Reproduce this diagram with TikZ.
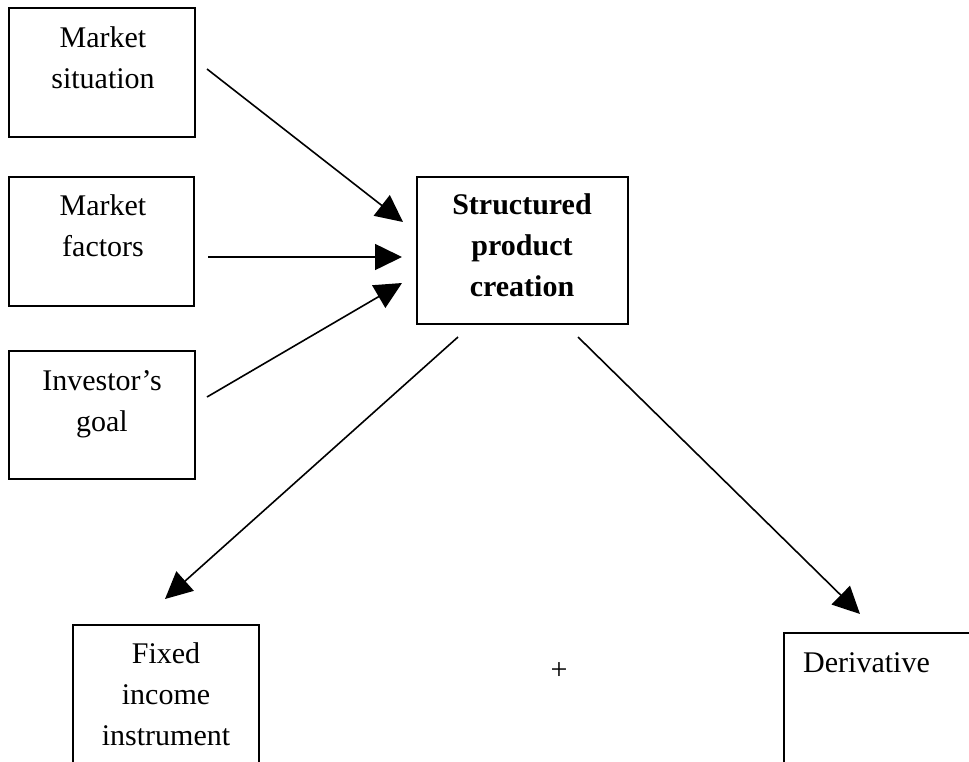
\documentclass[tikz,border=0pt]{standalone}
\usepackage{fontspec}
\setmainfont{Liberation Serif}
\usetikzlibrary{arrows.meta}

\tikzset{
  box/.style={draw=black, line width=2.2pt, rectangle, inner sep=0pt},
  boxtext/.style={inner sep=0pt, align=center, anchor=north,
    font=\fontsize{30}{41}\selectfont},
  flow/.style={line width=1.6pt, -{Triangle[length=27pt, width=26pt]}},
}

\begin{document}
\begin{tikzpicture}[x=1pt, y=-1pt]
  \useasboundingbox (0,0) rectangle (969,761);
  \clip (0,0) rectangle (969,761);
  \fill[white] (0,0) rectangle (969,761);

  % input boxes on the left
  \node[box, minimum width=186pt, minimum height=129pt] (situation) at (102,72.5) {};
  \node[box, minimum width=185pt, minimum height=129pt] (factors) at (101.5,241.5) {};
  \node[box, minimum width=186pt, minimum height=128pt] (goal) at (102,415) {};

  % central box
  \node[box, minimum width=211pt, minimum height=147pt] (creation) at (522.5,250.5) {};

  % output boxes, running past the lower edge
  \node[box, minimum width=186pt, minimum height=160pt] (fixed) at (166,705) {};
  \node[box, minimum width=187pt, minimum height=160pt] (deriv) at (877.5,713) {};

  % box texts
  \node[boxtext] (tsituation) at (103,18.3) {\strut Market\\situation};
  \node[boxtext] (tfactors) at (103,186.3) {\strut Market\\factors};
  \node[boxtext] (tgoal) at (102,361.3) {\strut Investor’s\\goal};
  \node[boxtext, font=\fontsize{30}{41}\selectfont\bfseries] (tcreation) at (522,185.3)
    {\strut Structured\\product\\creation};
  \node[boxtext] (tfixed) at (166,634.3) {\strut Fixed\\income\\instrument};
  \node[boxtext, anchor=north west, align=left] (tderiv) at (803,643.3) {\strut Derivative};
  \node[inner sep=0pt, anchor=base, font=\fontsize{30}{41}\selectfont] (plus) at (559,679) {+};

  % connector end points
  \coordinate (s1) at (207,69);   \coordinate (e1) at (403,222);
  \coordinate (s2) at (208,257);  \coordinate (e2) at (402,257);
  \coordinate (s3) at (207,397);  \coordinate (e3) at (402,283);
  \coordinate (s4) at (458,337);  \coordinate (e4) at (165,599);
  \coordinate (s5) at (578,337);  \coordinate (e5) at (860,614);

  \draw[flow] (s1) -- (e1);
  \draw[flow] (s2) -- (e2);
  \draw[flow] (s3) -- (e3);
  \draw[flow] (s4) -- (e4);
  \draw[flow] (s5) -- (e5);
\end{tikzpicture}
\end{document}
